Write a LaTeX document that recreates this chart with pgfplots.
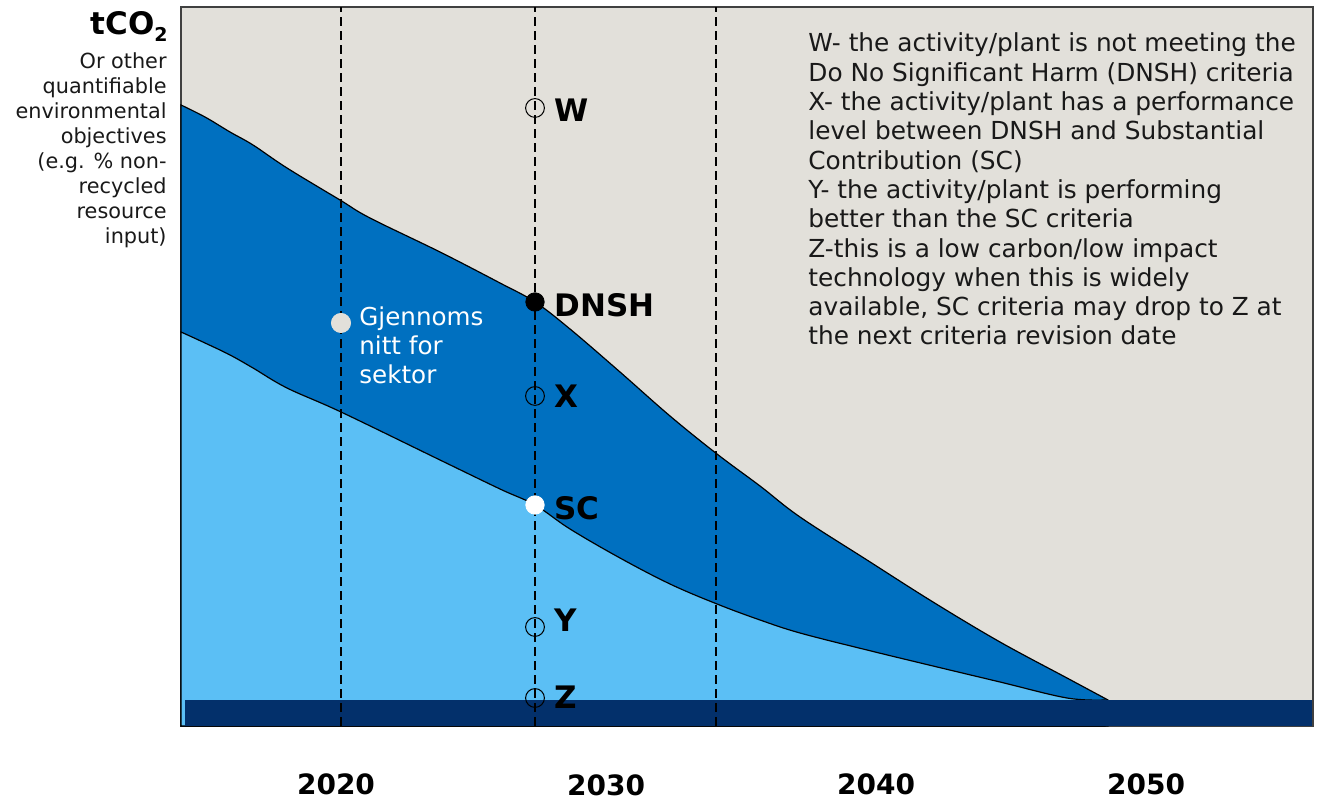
\documentclass[border=0pt]{standalone}
\usepackage{pgfplots}
\pgfplotsset{compat=1.18}
\usepackage{fontspec}
\setmainfont{DejaVu Sans}
\definecolor{bgbeige}{HTML}{E2E0DA}
\definecolor{dblue}{HTML}{0070C0}
\definecolor{lblue}{HTML}{5BBFF5}
\definecolor{navy}{HTML}{03306B}
\begin{document}
\begin{tikzpicture}
\begin{axis}[
  at={(90.5pt,37.5pt)}, anchor=south west,
  scale only axis, width=566pt, height=359.5pt,
  xmin=181, xmax=1313, ymin=0, ymax=719,
  axis background/.style={fill=bgbeige},
  axis line style={draw=black!75, line width=0.6pt},
  xtick=\empty, ytick=\empty,
  clip=false,
]
% DNSH upper boundary (dark blue area)
\addplot[fill=dblue, draw=black, line width=0.6pt, smooth, tension=0.6] coordinates {
(181,621) (205,609) (230,594) (253,581) (287,558) (340,526) (370,508) (440,474) (500,443) (535,424)
(570,397) (620,354) (670,310) (717,272) (760,240) (800,209) (867,166) (933,124) (1000,84) (1067,48) (1108,26)
} \closedcycle;
% SC boundary (light blue area)
\addplot[fill=lblue, draw=black, line width=0.6pt, smooth, tension=0.6] coordinates {
(181,394) (205,383) (230,371) (253,358) (287,338) (341,314) (440,266) (500,237) (535,221)
(570,197) (620,168) (670,142) (717,122) (760,106) (800,93) (867,76) (933,60) (1000,44) (1067,28) (1105,26)
} \closedcycle;
% navy bar
\addplot[fill=navy, draw=none] coordinates {(185,26) (1312,26)} \closedcycle;
% dashed year lines
\addplot[black, line width=0.75pt, dash pattern=on 4.5pt off 2.5pt] coordinates {(341,0) (341,719)};
\addplot[black, line width=0.75pt, dash pattern=on 4.5pt off 2.5pt] coordinates {(535,0) (535,719)};
\addplot[black, line width=0.75pt, dash pattern=on 4.5pt off 2.5pt] coordinates {(716,0) (716,719)};
% open circles W X Y Z
\addplot[only marks, mark=o, mark size=4.7pt, mark options={draw=black, line width=0.5pt}] coordinates {(535,618) (535,330) (535,99) (535,28)};
% DNSH
\addplot[only marks, mark=*, mark size=4.6pt, mark options={fill=black, draw=black}] coordinates {(535,424)};
% SC
\addplot[only marks, mark=*, mark size=4.6pt, mark options={fill=white, draw=white}] coordinates {(535,221)};
% sector average
\addplot[only marks, mark=*, mark size=4.8pt, mark options={fill=bgbeige, draw=bgbeige}] coordinates {(341,403)};
% point labels
\begin{scope}[every node/.style={inner sep=0pt, font=\fontsize{15.5}{18}\selectfont\bfseries, anchor=base west}]
\node at (axis cs:554,604) {W};
\node at (axis cs:554,409) {DNSH};
\node at (axis cs:554,318) {X};
\node at (axis cs:554,206) {SC};
\node at (axis cs:554,94) {Y};
\node at (axis cs:554,17) {Z};
\end{scope}
% sector average text
\begin{scope}[every node/.style={inner sep=0pt, font=\fontsize{12.3}{14.6}\selectfont, anchor=base west, text=white}]
\node at (axis cs:359,400) {Gjennoms};
\node at (axis cs:359,371) {nitt for};
\node at (axis cs:359,342) {sektor};
\end{scope}
% explanation text
\begin{scope}[every node/.style={inner sep=0pt, font=\fontsize{12.4}{14.6}\selectfont, anchor=base west, text=black!90}]
\node at (axis cs:808,674) {W- the activity/plant is not meeting the};
\node at (axis cs:808,644.7) {Do No Significant Harm (DNSH) criteria};
\node at (axis cs:808,615.4) {X- the activity/plant has a performance};
\node at (axis cs:808,586.1) {level between DNSH and Substantial};
\node at (axis cs:808,556.8) {Contribution (SC)};
\node at (axis cs:808,527.5) {Y- the activity/plant is performing};
\node at (axis cs:808,498.2) {better than the SC criteria};
\node at (axis cs:808,468.9) {Z-this is a low carbon/low impact};
\node at (axis cs:808,439.6) {technology when this is widely};
\node at (axis cs:808,410.3) {available, SC criteria may drop to Z at};
\node at (axis cs:808,381) {the next criteria revision date};
\end{scope}
% y label
\node[inner sep=0pt, anchor=base east, font=\fontsize{15.5}{18}\selectfont\bfseries] at (axis cs:168,691) {tCO\raisebox{-3.3pt}{\fontsize{9.5}{11}\selectfont\bfseries 2}};
\begin{scope}[every node/.style={inner sep=0pt, font=\fontsize{10.4}{12.5}\selectfont, anchor=base east, text=black!90}]
\node at (axis cs:167,657) {Or other};
\node at (axis cs:167,632) {quantifiable};
\node at (axis cs:167,607) {environmental};
\node at (axis cs:167,582) {objectives};
\node at (axis cs:167,557) {(e.g. \% non-};
\node at (axis cs:167,532) {recycled};
\node at (axis cs:167,507) {resource};
\node at (axis cs:167,482) {input)};
\end{scope}
% year labels
\begin{scope}[every node/.style={inner sep=0pt, font=\fontsize{14}{16}\selectfont\bfseries, anchor=base}]
\node at (axis cs:336,-69) {2020};
\node at (axis cs:606,-70) {2030};
\node at (axis cs:876,-69) {2040};
\node at (axis cs:1146,-69) {2050};
\end{scope}
\end{axis}
\pgfresetboundingbox
\path (0,0) rectangle (660.5pt,400.5pt);
\end{tikzpicture}
\end{document}
